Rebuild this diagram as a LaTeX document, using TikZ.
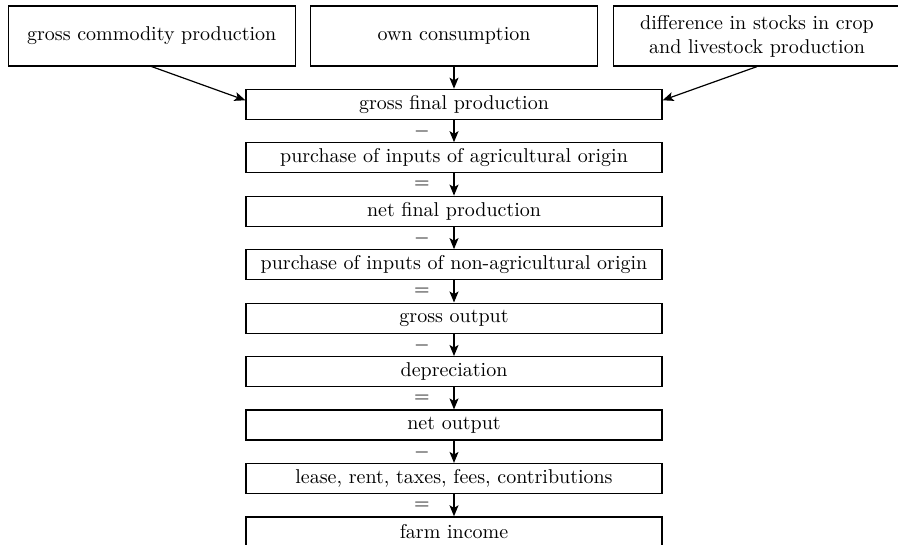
\documentclass[tikz,border=0pt]{standalone}
\usetikzlibrary{arrows.meta}
\begin{document}
\begin{tikzpicture}[x=0.5pt,y=-0.5pt,
  topbox/.style={draw, line width=0.6pt, minimum width=143.5pt, minimum height=30pt, inner sep=0pt, align=center},
  mainbox/.style={draw, line width=0.6pt, minimum width=208pt, minimum height=15pt, inner sep=0pt},
  arr/.style={line width=0.6pt, -{Stealth[length=5.5pt,width=4.5pt,inset=1.3pt]}},
  op/.style={inner sep=0pt}]
\useasboundingbox (0,0) rectangle (898,545);
% top boxes
\node[topbox] (gcp) at (151.7,36) {gross commodity production};
\node[topbox] (own) at (454,36) {own consumption};
\node[topbox] (dst) at (757,36) {difference in stocks in crop\\and livestock production};
% main column
\node[mainbox] (gfp) at (454,104.3) {gross final production};
\node[mainbox] (pia) at (454,157.8) {purchase of inputs of agricultural origin};
\node[mainbox] (nfp) at (454,211.2) {net final production};
\node[mainbox] (pin) at (454,264.7) {purchase of inputs of non-agricultural origin};
\node[mainbox] (gou) at (454,318.1) {gross output};
\node[mainbox] (dep) at (454,371.6) {depreciation};
\node[mainbox] (nou) at (454,425.0) {net output};
\node[mainbox] (lrt) at (454,478.5) {lease, rent, taxes, fees, contributions};
\node[mainbox] (fin) at (454,531.9) {farm income};
% top arrows
\draw[arr] (gcp.south) -- ([yshift=2pt]gfp.west);
\draw[arr] (own.south) -- (gfp.north);
\draw[arr] (dst.south) -- ([yshift=2pt]gfp.east);
% vertical arrows
\draw[arr] (gfp.south) -- (pia.north);
\draw[arr] (pia.south) -- (nfp.north);
\draw[arr] (nfp.south) -- (pin.north);
\draw[arr] (pin.south) -- (gou.north);
\draw[arr] (gou.south) -- (dep.north);
\draw[arr] (dep.south) -- (nou.north);
\draw[arr] (nou.south) -- (lrt.north);
\draw[arr] (lrt.south) -- (fin.north);
% operators
\node[op] (o1) at (422,131.3) {$-$};
\node[op] (o2) at (422,184.7) {$=$};
\node[op] (o3) at (422,238.2) {$-$};
\node[op] (o4) at (422,291.7) {$=$};
\node[op] (o5) at (422,345.1) {$-$};
\node[op] (o6) at (422,398.5) {$=$};
\node[op] (o7) at (422,452.0) {$-$};
\node[op] (o8) at (422,505.4) {$=$};
\end{tikzpicture}
\end{document}
